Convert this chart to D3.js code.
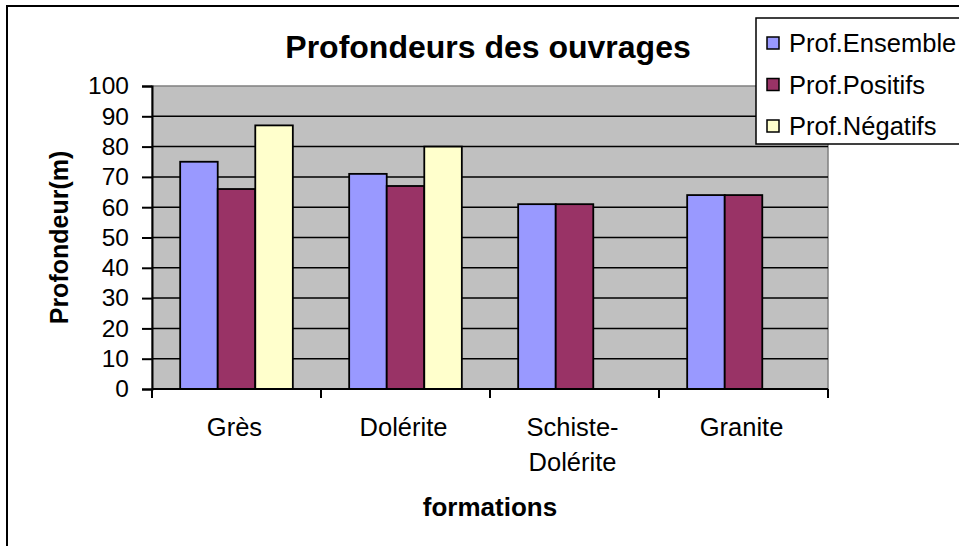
<!DOCTYPE html>
<html>
<head>
<meta charset="utf-8">
<script src="https://cdn.jsdelivr.net/npm/d3@7"></script>
<style>
  body { margin: 0; background: #fff; }
  text { font-family: "Liberation Sans", Arial, sans-serif; fill: #000; }
</style>
</head>
<body>
<svg id="chart" width="959" height="546"></svg>
<script>
// Data
var categories = [["Grès"], ["Dolérite"], ["Schiste-", "Dolérite"], ["Granite"]];
var seriesNames = ["Prof.Ensemble", "Prof.Positifs", "Prof.Négatifs"];
var ensemble = [75, 71, 61, 64];
var positifs = [66, 67, 61, 64];
var negatifs = [87, 80, null, null];
var seriesColors = ["#9999FF", "#993366", "#FFFFCC"];
var yTicks = [0, 10, 20, 30, 40, 50, 60, 70, 80, 90, 100];

var svg = d3.select("#chart");

// Outer chart border (runs off the right and bottom edge)
svg.append("rect")
    .attr("x", 7).attr("y", 6)
    .attr("width", 980).attr("height", 560)
    .attr("fill", "#fff")
    .attr("stroke", "#000")
    .attr("stroke-width", 2);

// Plot area
var plot = {left: 152, right: 828, top: 86, bottom: 389};

var catKeys = categories.map(function(d) { return d.join(" "); });

var x = d3.scaleBand()
    .domain(catKeys)
    .range([plot.left, plot.right]);

// gap width 150% -> each bar is band / 4.5
var bw = x.bandwidth();
var x1 = d3.scaleBand()
    .domain(seriesNames)
    .range([bw * 0.75 / 4.5, bw - bw * 0.75 / 4.5]);

var y = d3.scaleLinear()
    .domain([0, 100])
    .range([plot.bottom, plot.top]);

svg.append("rect")
    .attr("x", plot.left).attr("y", plot.top)
    .attr("width", plot.right - plot.left)
    .attr("height", plot.bottom - plot.top)
    .attr("fill", "#C0C0C0")
    .attr("stroke", "#808080")
    .attr("stroke-width", 1.5);

// Gridlines
svg.append("g")
    .selectAll("line")
    .data(yTicks.filter(function(d) { return d > 0 && d < 100; }))
    .join("line")
    .attr("x1", plot.left).attr("x2", plot.right)
    .attr("y1", function(d) { return y(d); })
    .attr("y2", function(d) { return y(d); })
    .attr("stroke", "#000")
    .attr("stroke-width", 1.5);

// Bars
var rows = catKeys.map(function(k, i) {
    return {key: k, values: [ensemble[i], positifs[i], negatifs[i]]};
});

svg.append("g")
    .selectAll("g")
    .data(rows)
    .join("g")
    .attr("transform", function(d) { return "translate(" + x(d.key) + ",0)"; })
    .selectAll("rect")
    .data(function(d) {
        return d.values.map(function(v, j) { return {s: seriesNames[j], v: v, c: seriesColors[j]}; })
            .filter(function(e) { return e.v != null; });
    })
    .join("rect")
    .attr("x", function(d) { return x1(d.s); })
    .attr("width", x1.bandwidth())
    .attr("y", function(d) { return y(d.v); })
    .attr("height", function(d) { return y(0) - y(d.v); })
    .attr("fill", function(d) { return d.c; })
    .attr("stroke", "#000")
    .attr("stroke-width", 1.8);

// Y axis
var yAxis = svg.append("g")
    .attr("transform", "translate(" + plot.left + ",0)")
    .call(d3.axisLeft(y).tickValues(yTicks).tickSize(10).tickPadding(13));
yAxis.selectAll("text")
    .style("font-size", "24.5px")
    .attr("font-family", null);
yAxis.selectAll("line, path").attr("stroke", "#000").attr("stroke-width", 2);

// X axis line and boundary ticks
var bounds = catKeys.map(function(k) { return x(k); }).concat([plot.right]);
var xAxis = svg.append("g");
xAxis.append("line")
    .attr("x1", plot.left).attr("x2", plot.right)
    .attr("y1", plot.bottom).attr("y2", plot.bottom)
    .attr("stroke", "#000").attr("stroke-width", 2);
xAxis.selectAll(".tick")
    .data(bounds)
    .join("line")
    .attr("class", "tick")
    .attr("x1", function(d) { return d; }).attr("x2", function(d) { return d; })
    .attr("y1", plot.bottom).attr("y2", plot.bottom + 9)
    .attr("stroke", "#000").attr("stroke-width", 2);

// Category labels (can be two lines)
xAxis.selectAll(".cat")
    .data(categories)
    .join("text")
    .attr("class", "cat")
    .attr("text-anchor", "middle")
    .style("font-size", "25.5px")
    .each(function(d, i) {
        var cx = x(catKeys[i]) + bw / 2 - 2;
        d3.select(this).selectAll("tspan")
            .data(d)
            .join("tspan")
            .attr("x", cx)
            .attr("y", function(t, j) { return 436 + j * 35; })
            .text(function(t) { return t; });
    });

// Titles
svg.append("text")
    .attr("x", 488).attr("y", 58)
    .attr("text-anchor", "middle")
    .style("font-size", "32px")
    .style("font-weight", "bold")
    .text("Profondeurs des ouvrages");

svg.append("text")
    .attr("transform", "translate(68," + ((plot.top + plot.bottom) / 2) + ") rotate(-90)")
    .attr("text-anchor", "middle")
    .style("font-size", "25px")
    .style("font-weight", "bold")
    .text("Profondeur(m)");

svg.append("text")
    .attr("x", (plot.left + plot.right) / 2).attr("y", 516)
    .attr("text-anchor", "middle")
    .style("font-size", "26px")
    .style("font-weight", "bold")
    .text("formations");

// Legend
var legend = svg.append("g");
legend.append("rect")
    .attr("x", 756).attr("y", 18)
    .attr("width", 240).attr("height", 126)
    .attr("fill", "#fff")
    .attr("stroke", "#000")
    .attr("stroke-width", 1.5);

var items = legend.selectAll(".item")
    .data(seriesNames)
    .join("g")
    .attr("class", "item")
    .attr("transform", function(d, i) { return "translate(767," + (43 + i * 41.5) + ")"; });

items.append("rect")
    .attr("x", 0).attr("y", -6)
    .attr("width", 12).attr("height", 12)
    .attr("fill", function(d, i) { return seriesColors[i]; })
    .attr("stroke", "#000")
    .attr("stroke-width", 1.5);

items.append("text")
    .attr("x", 22).attr("y", 9)
    .style("font-size", "25.5px")
    .text(function(d) { return d; });
</script>
</body>
</html>
